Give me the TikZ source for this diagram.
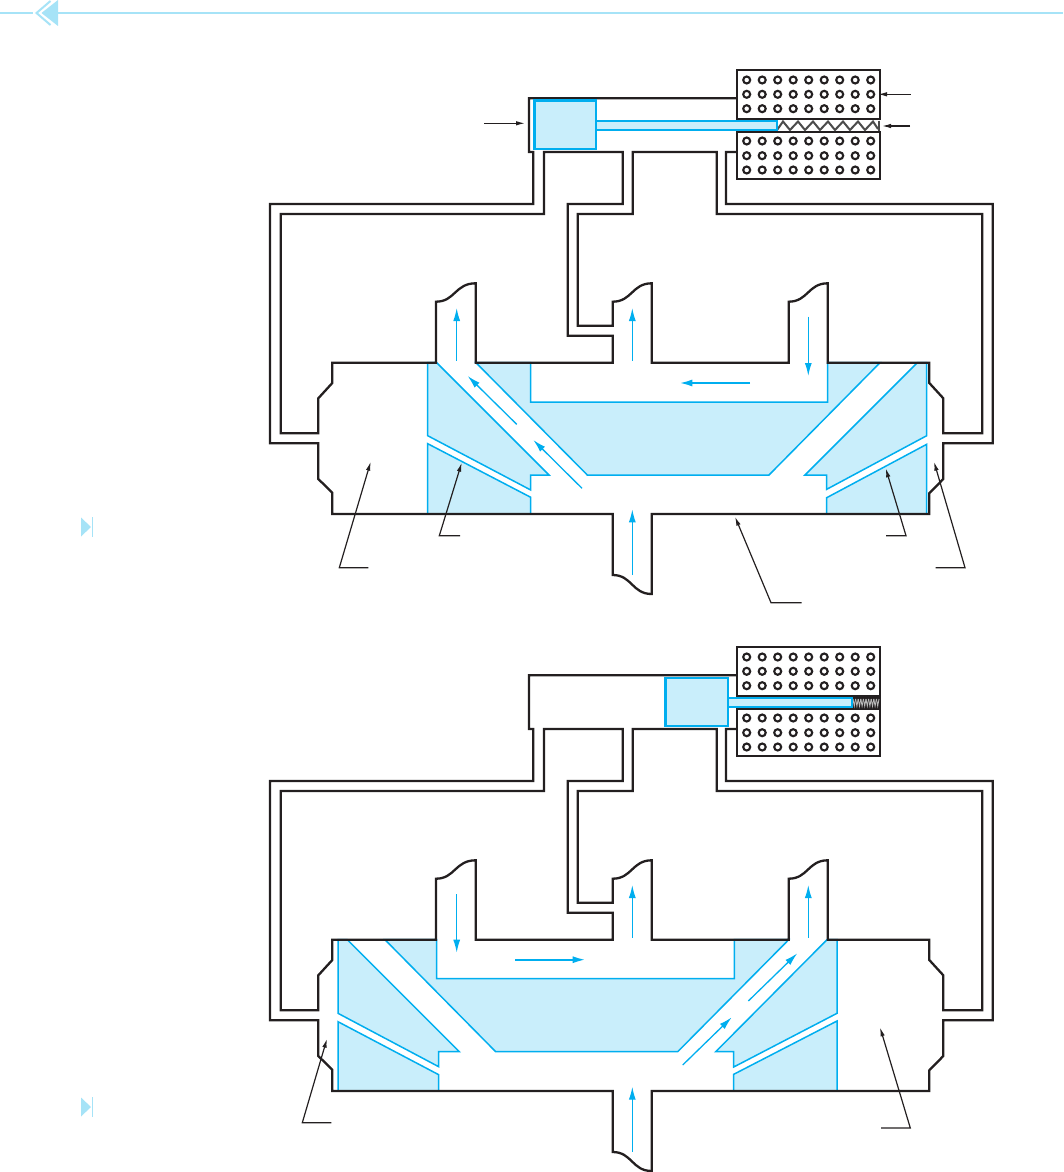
\documentclass[tikz,border=0pt]{standalone}
\usepackage{tikz}
\usetikzlibrary{arrows.meta}
\definecolor{inkblack}{HTML}{231F20}
\definecolor{flowblue}{HTML}{00AEEF}
\definecolor{paleblue}{HTML}{C9EEFB}
\definecolor{headblue}{HTML}{A6E3F7}
\tikzset{
  wall/.style={draw=inkblack,line width=2.3pt,line join=miter},
  cell/.style={draw=flowblue,fill=paleblue,line width=1.5pt},
  piston/.style={draw=flowblue,fill=paleblue,line width=2.8pt},
  flow/.style={draw=flowblue,line width=1.3pt,-{Latex[length=13pt,width=7pt]}},
  leader/.style={draw=inkblack,line width=1.2pt,-{Latex[length=9pt,width=4.5pt]}},
  hole/.style={draw=inkblack,line width=2.1pt,fill=white}
}
% housing, pipes and the two banks of holes, drawn at vertical offset #1
\newcommand{\valvehousing}[1]{
  \begin{scope}[shift={(0,#1)}]
    % body with its three ports on top and the inlet below
    \draw[wall] (612.7,335.7) -- (612.7,362.7) -- (475.7,362.7) -- (475.7,283.3)
      .. controls (455,283.3) and (455,301.7) .. (436,301.7) -- (436,362.7) -- (332.3,362.7)
      -- (332.3,383) -- (318.3,398.3) -- (318.3,433.3) -- (280.7,433.3) -- (280.7,214)
      -- (544,214) -- (544,152) -- (622.7,152) -- (622.7,204) -- (567.7,204) -- (567.7,335.7) -- cycle;
    \draw[wall] (577.7,325.7) -- (612.7,325.7) -- (612.7,301.7)
      .. controls (632,301.7) and (632,283.3) .. (651.7,283.3) -- (651.7,362.7) -- (788.7,362.7)
      -- (788.7,301.7) .. controls (808,301.7) and (808,283.3) .. (827.7,283.3) -- (827.7,362.7)
      -- (929.3,362.7) -- (929.3,383) -- (943.3,398.3) -- (943.3,433.3) -- (982.3,433.3)
      -- (982.3,214) -- (716.7,214) -- (716.7,152) -- (632.7,152) -- (632.7,214) -- (577.7,214) -- cycle;
    \draw[wall] (736.7,152) -- (726,152) -- (726,204) -- (992.7,204) -- (992.7,443.3) -- (943.3,443.3)
      -- (943.3,479) -- (929.3,493.3) -- (929.3,514) -- (651.7,514) -- (651.7,594)
      .. controls (632,594) and (632,575) .. (612.7,575) -- (612.7,514) -- (332.3,514)
      -- (332.3,492.7) -- (318.3,479) -- (318.3,443.3) -- (270,443.3) -- (270,204)
      -- (533.3,204) -- (533.3,152) -- (529,152) -- (529,98.3) -- (736.7,98.3);
    % solenoid
    \draw[wall,fill=white] (736.7,70) rectangle (880,119.3);
    \draw[wall,fill=white] (736.7,131.7) rectangle (880,179.3);
    \foreach \col in {0,...,8}
      \foreach \row in {80,94.3,108.7,141,155.7,170}
        \draw[hole] ({746.7+15.5*\col},\row) circle [radius=3.5];
  \end{scope}
}
\begin{document}
\begin{tikzpicture}[x=1pt,y=-1pt]
  \useasboundingbox (0,0) rectangle (1063,1172);
  % page header
  \draw[headblue,line width=1.8pt] (0,13) -- (1063,13);
  \fill[white] (33,0) rectangle (58,26);
  \fill[headblue] (58,0) -- (58,26) -- (41.5,13) -- cycle;
  \draw[headblue,line width=2pt] (50.5,1) -- (36.5,13) -- (50.5,25);
  \foreach \mark in {527,1107}{
    \fill[headblue] (81,\mark-9.5) -- (91,\mark) -- (81,\mark+9.5) -- cycle;
    \draw[headblue,line width=1.4pt] (92.5,\mark-10) -- (92.5,\mark+10);
  }
  % upper valve: cells
  \draw[cell] (427.7,362.7) -- (436.7,362.7) -- (549,475) -- (530.7,475) -- (530.7,490) -- (427.7,435.7) -- cycle;
  \draw[cell] (427.7,443.7) -- (530.7,497.3) -- (530.7,514) -- (427.7,514) -- cycle;
  \draw[cell] (476,362.7) -- (530.7,362.7) -- (530.7,402) -- (827.7,402) -- (827.7,362.7)
    -- (880,362.7) -- (769,475) -- (587.3,475) -- cycle;
  \draw[cell] (917.3,362.7) -- (926.7,362.7) -- (926.7,435.7) -- (826.7,489.3) -- (826.7,475) -- (805,475) -- cycle;
  \draw[cell] (926.7,444.3) -- (826.7,497.7) -- (826.7,514) -- (926.7,514) -- cycle;
  % lower valve: cells
  \draw[cell] (338,939.7) -- (347.3,939.7) -- (459.3,1051.7) -- (438.7,1051.7) -- (438.7,1066.7) -- (338,1013.3) -- cycle;
  \draw[cell] (338,1021.7) -- (438.7,1074.7) -- (438.7,1091) -- (338,1091) -- cycle;
  \draw[cell] (385,939.7) -- (436.7,939.7) -- (436.7,978.7) -- (734.3,978.7) -- (734.3,939.7)
    -- (788.7,939.7) -- (677.7,1051.7) -- (495.7,1051.7) -- cycle;
  \draw[cell] (827,939.7) -- (837,939.7) -- (837,1013.3) -- (733.7,1067) -- (733.7,1051.7) -- (715.7,1051.7) -- cycle;
  \draw[cell] (837,1021) -- (733.7,1074.3) -- (733.7,1091) -- (837,1091) -- cycle;
  % housings
  \valvehousing{0}
  \valvehousing{577}
  % upper solenoid: slit, rod, spring and piston
  \fill[white] (776,120.5) rectangle (880,130.5);
  \draw[inkblack,line width=1.8pt] (776,119.3) -- (880,119.3) (776,131.7) -- (880,131.7);
  \draw[black!70,line width=2pt] (777,130) -- (783,121.5) -- (790,130) -- (798,121.5) -- (805,130) -- (813,121.5)
    -- (820,130) -- (828,121.5) -- (835,130) -- (843,121.5) -- (850,130) -- (858,121.5) -- (865,130) -- (873,121.5) -- (878,129);
  \draw[black!70,line width=2.4pt] (879,120.5) -- (879,130.5);
  \draw[piston,line width=2.2pt] (596,121) rectangle (776.7,130);
  \draw[piston] (534.7,100.7) rectangle (596,149);
  % lower solenoid: slit, rod, spring and piston
  \fill[inkblack] (851,696.3) rectangle (880.5,708.7);
  \foreach \turn in {0,...,9}
    \draw[white!72!black,line width=0.9pt] ({853+2.6*\turn},699) -- ({854.3+2.6*\turn},706) -- ({855.6+2.6*\turn},699);
  \draw[piston,line width=2.2pt] (728,698.3) rectangle (851.7,707);
  \draw[piston] (665.7,678) rectangle (728,726);
  % upper valve: flow arrows
  \draw[flow] (456.7,360.7) -- (456.7,308);
  \draw[flow] (632.3,360.7) -- (632.3,308);
  \draw[flow] (808.3,316.7) -- (808.3,376);
  \draw[flow] (632.3,575) -- (632.3,509.3);
  \draw[flow,line width=2pt] (750,383) -- (679.3,383);
  \draw[flow] (516.7,424.3) -- (467.7,376);
  \draw[flow] (582,488.3) -- (533.3,440);
  % lower valve: flow arrows
  \draw[flow] (456.7,894) -- (456.7,952.7);
  \draw[flow] (632.3,937.7) -- (632.3,885);
  \draw[flow] (808.3,937.7) -- (808.3,885);
  \draw[flow] (632.3,1151.7) -- (632.3,1086.7);
  \draw[flow,line width=2pt] (515,959.7) -- (585.7,959.7);
  \draw[flow] (748.3,1001) -- (797.3,953.3);
  \draw[flow] (682.7,1065) -- (731.7,1017.3);
  % leaders
  \draw[leader] (484,123.3) -- (525,123.3);
  \draw[leader] (910.7,94.3) -- (878,94.3);
  \draw[leader] (910,126) -- (882,126);
  \draw[leader] (368.3,567.7) -- (339.3,567.7) -- (370.7,461.7);
  \draw[leader] (460,535.7) -- (439.3,535.7) -- (461.7,462.7);
  \draw[leader] (801.7,602.7) -- (771,602.7) -- (735,516.7);
  \draw[leader] (886,535.7) -- (906,535.7) -- (885.7,468.3);
  \draw[leader] (935.7,567.7) -- (965,567.7) -- (934,461.7);
  \draw[leader] (331.3,1122.7) -- (302.3,1122.7) -- (327,1038.7);
  \draw[leader] (881,1128) -- (910.3,1128) -- (880,1027.3);
\end{tikzpicture}
\end{document}
